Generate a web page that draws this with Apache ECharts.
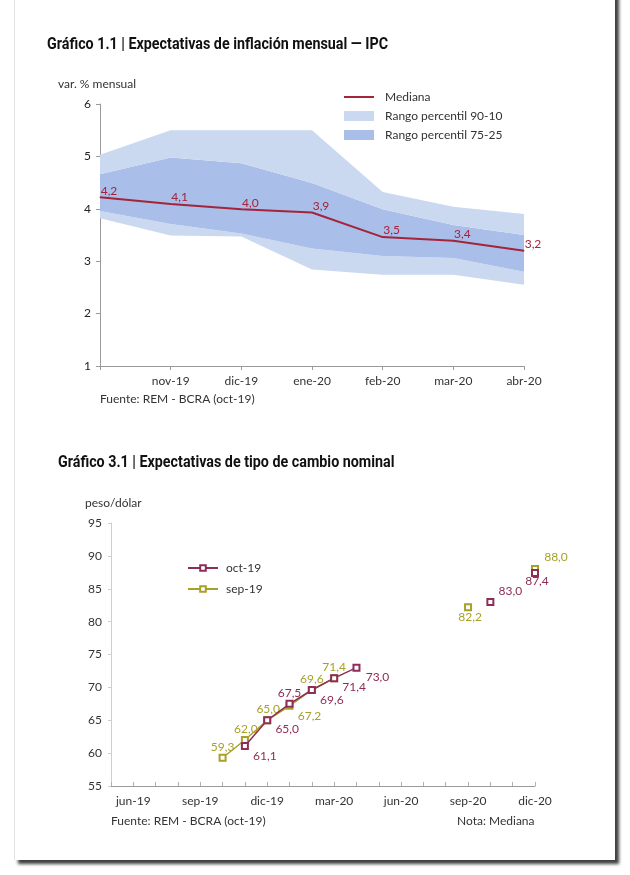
<!DOCTYPE html>
<html>
<head>
<meta charset="utf-8">
<script src="https://cdn.jsdelivr.net/npm/echarts@6/dist/echarts.min.js"></script>
<style>
html,body{margin:0;padding:0;background:#fff;}
#frame{position:absolute;left:14px;top:-10px;width:600px;height:870px;border-left:1px solid #e2e2e2;background:#fff;box-shadow:4px 4px 3px rgba(30,30,30,0.85);}
#chart{position:absolute;left:0;top:0;width:630px;height:875px;}
</style>
</head>
<body>
<div id="frame"></div>
<div id="chart"></div>
<script>
// ---------- Gráfico 1.1 data ----------
var inflCategories = ['oct-19', 'nov-19', 'dic-19', 'ene-20', 'feb-20', 'mar-20', 'abr-20'];
var inflMedian = [4.22, 4.09, 3.99, 3.93, 3.46, 3.39, 3.20];
var inflP90 = [5.03, 5.50, 5.50, 5.50, 4.32, 4.04, 3.90];
var inflP75 = [4.66, 4.98, 4.87, 4.49, 3.99, 3.69, 3.50];
var inflP25 = [3.96, 3.71, 3.53, 3.24, 3.10, 3.06, 2.80];
var inflP10 = [3.82, 3.49, 3.47, 2.84, 2.74, 2.74, 2.55];
var inflYTicks = [1, 2, 3, 4, 5, 6];

// ---------- Gráfico 3.1 data ----------
var fxMonths = ['may-19', 'jun-19', 'jul-19', 'ago-19', 'sep-19', 'oct-19', 'nov-19', 'dic-19',
  'ene-20', 'feb-20', 'mar-20', 'abr-20', 'may-20', 'jun-20', 'jul-20', 'ago-20',
  'sep-20', 'oct-20', 'nov-20', 'dic-20'];
var fxOct19 = [null, null, null, null, null, null, 61.1, 65.0, 67.5, 69.6, 71.4, 73.0,
  null, null, null, null, null, 83.0, null, 87.4];
var fxSep19 = [null, null, null, null, null, 59.3, 62.0, 65.0, 67.2, 69.6, 71.4, null,
  null, null, null, null, 82.2, null, null, 88.0];
var fxYTicks = [55, 60, 65, 70, 75, 80, 85, 90, 95];

// ---------- text ----------
var title1 = 'Gráfico 1.1 | Expectativas de inflación mensual — IPC';
var title2 = 'Gráfico 3.1 | Expectativas de tipo de cambio nominal';

// ---------- styling / helpers ----------
var bodyFont = "Lato, 'Open Sans', sans-serif";
var titleFontCss = "bold 16px Roboto, 'DejaVu Sans', sans-serif";
var medColor = '#a3243b';
var lightBand = '#cad8f0';
var darkBand = '#a9bee8';
var purple = '#8e2d57';
var olive = '#a7a12a';

// horizontal squeeze so the bold title looks condensed like the original
var measureCtx = document.createElement('canvas').getContext('2d');
measureCtx.font = titleFontCss;
var titleScale = 341 / measureCtx.measureText(title1).width;

function fmt(v) { return (Math.round(v * 10) / 10).toFixed(1).replace('.', ','); }
function diff(a, b) { return a.map(function (v, i) { return +(v - b[i]).toFixed(4); }); }

// label placements (dx, dy from the point centre) for Gráfico 3.1
var octPlace = {6: [20, 10], 7: [20, 9], 8: [0, -11], 9: [20, 10], 10: [20, 9], 11: [21, 9], 17: [20, -11], 19: [2, 8]};
var sepPlace = {5: [0, -11], 6: [1, -11], 7: [1, -11], 8: [20, 10], 9: [0, -11], 10: [0, -11], 16: [2, 10], 19: [21, -12]};

function fxItems(arr, place, color) {
  return arr.map(function (v, i) {
    if (v === null) return null;
    var p = place[i] || [0, -11];
    return {
      value: v,
      label: {show: true, position: 'inside', offset: p, color: color, fontSize: 12, fontFamily: bodyFont,
        formatter: function (d) { return fmt(d.value); }}
    };
  });
}

var chart = echarts.init(document.getElementById('chart'), null, {renderer: 'canvas'});

var option = {
  backgroundColor: 'transparent',
  animation: false,
  graphic: [
    {type: 'text', x: 47, y: 45, scaleX: titleScale,
      style: {text: title1, font: titleFontCss, fill: '#111', verticalAlign: 'middle'}},
    {type: 'text', x: 58, y: 463, scaleX: titleScale,
      style: {text: title2, font: titleFontCss, fill: '#111', verticalAlign: 'middle'}},
    {type: 'text', x: 58, y: 84, style: {text: 'var. % mensual', font: '12px ' + bodyFont, fill: '#333', verticalAlign: 'middle'}},
    {type: 'text', x: 100, y: 399, style: {text: 'Fuente: REM - BCRA (oct-19)', font: '12px ' + bodyFont, fill: '#333', verticalAlign: 'middle'}},
    {type: 'text', x: 85, y: 503, style: {text: 'peso/dólar', font: '12px ' + bodyFont, fill: '#333', verticalAlign: 'middle'}},
    {type: 'text', x: 111, y: 821, style: {text: 'Fuente: REM - BCRA (oct-19)', font: '12px ' + bodyFont, fill: '#333', verticalAlign: 'middle'}},
    {type: 'text', x: 457, y: 821, style: {text: 'Nota: Mediana', font: '12px ' + bodyFont, fill: '#333', verticalAlign: 'middle'}}
  ],
  legend: [
    {
      orient: 'vertical', left: 343, top: 91, padding: 0, itemWidth: 30, itemHeight: 10, itemGap: 7,
      selectedMode: false,
      textStyle: {fontFamily: bodyFont, fontSize: 12, color: '#333', padding: [0, 0, 0, 6]},
      data: [
        {name: 'Mediana', itemStyle: {opacity: 0}},
        {name: 'Rango percentil 90-10', icon: 'rect'},
        {name: 'Rango percentil 75-25', icon: 'rect'}
      ]
    },
    {
      orient: 'vertical', left: 187, top: 562, padding: 0, itemWidth: 30, itemHeight: 7, itemGap: 9,
      selectedMode: false,
      textStyle: {fontFamily: bodyFont, fontSize: 12, color: '#333', padding: [0, 0, 0, 3]},
      data: ['oct-19', 'sep-19']
    }
  ],
  grid: [
    {left: 100, top: 104, width: 424, height: 262},
    {left: 111, top: 523, width: 424, height: 263}
  ],
  xAxis: [
    {
      gridIndex: 0, type: 'category', data: inflCategories, boundaryGap: false,
      axisLine: {lineStyle: {color: '#9a9a9a', width: 1}},
      axisTick: {show: true, length: 4, lineStyle: {color: '#9a9a9a'}},
      axisLabel: {fontFamily: bodyFont, fontSize: 12, color: '#333', margin: 9,
        formatter: function (v, i) { return i === 0 ? '' : v; }},
      splitLine: {show: false}
    },
    {
      gridIndex: 1, type: 'category', data: fxMonths, boundaryGap: false,
      axisLine: {lineStyle: {color: '#9a9a9a', width: 1}},
      axisTick: {show: true, inside: true, length: 4, interval: 0, lineStyle: {color: '#b0b0b0'}},
      axisLabel: {fontFamily: bodyFont, fontSize: 12, color: '#333', margin: 9,
        interval: function (i) { return i % 3 === 1; }},
      splitLine: {show: false}
    }
  ],
  yAxis: [
    {
      gridIndex: 0, type: 'value', min: inflYTicks[0], max: inflYTicks[inflYTicks.length - 1], interval: 1,
      axisLine: {show: true, lineStyle: {color: '#9a9a9a'}},
      axisTick: {show: true, length: 4, lineStyle: {color: '#9a9a9a'}},
      axisLabel: {fontFamily: bodyFont, fontSize: 12, color: '#222', margin: 9},
      splitLine: {show: false}
    },
    {
      gridIndex: 1, type: 'value', min: fxYTicks[0], max: fxYTicks[fxYTicks.length - 1], interval: 5,
      axisLine: {show: true, lineStyle: {color: '#cfcfcf'}},
      axisTick: {show: true, length: 3, lineStyle: {color: '#cfcfcf'}},
      axisLabel: {fontFamily: bodyFont, fontSize: 12, color: '#333', margin: 9},
      splitLine: {show: false}
    }
  ],
  series: [
    {name: 'base', type: 'line', xAxisIndex: 0, yAxisIndex: 0, stack: 'band', data: inflP10,
      symbol: 'none', lineStyle: {width: 0, opacity: 0}, silent: true},
    {name: 'Rango percentil 90-10', type: 'line', xAxisIndex: 0, yAxisIndex: 0, stack: 'band',
      data: diff(inflP25, inflP10), symbol: 'none', color: lightBand, itemStyle: {color: lightBand},
      lineStyle: {width: 0, opacity: 0}, areaStyle: {color: lightBand, opacity: 1}, silent: true},
    {name: 'Rango percentil 75-25', type: 'line', xAxisIndex: 0, yAxisIndex: 0, stack: 'band',
      data: diff(inflP75, inflP25), symbol: 'none', color: darkBand, itemStyle: {color: darkBand},
      lineStyle: {width: 0, opacity: 0}, areaStyle: {color: darkBand, opacity: 1}, silent: true},
    {name: 'Rango percentil 90-10', type: 'line', xAxisIndex: 0, yAxisIndex: 0, stack: 'band',
      data: diff(inflP90, inflP75), symbol: 'none', color: lightBand, itemStyle: {color: lightBand},
      lineStyle: {width: 0, opacity: 0}, areaStyle: {color: lightBand, opacity: 1}, silent: true},
    {name: 'Mediana', type: 'line', xAxisIndex: 0, yAxisIndex: 0, data: inflMedian,
      symbol: 'circle', symbolSize: 1, showSymbol: true, color: medColor, itemStyle: {color: medColor},
      lineStyle: {color: medColor, width: 2},
      label: {show: true, position: 'top', distance: 0, offset: [9, 0], color: medColor,
        fontFamily: bodyFont, fontSize: 12, formatter: function (d) { return fmt(d.value); }}},
    {name: 'sep-19', type: 'line', xAxisIndex: 1, yAxisIndex: 1, data: fxItems(fxSep19, sepPlace, olive),
      connectNulls: false, symbol: 'emptyRect', symbolSize: 6, color: olive,
      itemStyle: {color: olive, borderColor: olive, borderWidth: 1.5},
      lineStyle: {color: olive, width: 1.5}, z: 3},
    {name: 'oct-19', type: 'line', xAxisIndex: 1, yAxisIndex: 1, data: fxItems(fxOct19, octPlace, purple),
      connectNulls: false, symbol: 'emptyRect', symbolSize: 6, color: purple,
      itemStyle: {color: purple, borderColor: purple, borderWidth: 1.5},
      lineStyle: {color: purple, width: 1.5}, z: 4}
  ]
};
chart.setOption(option);
</script>
</body>
</html>
